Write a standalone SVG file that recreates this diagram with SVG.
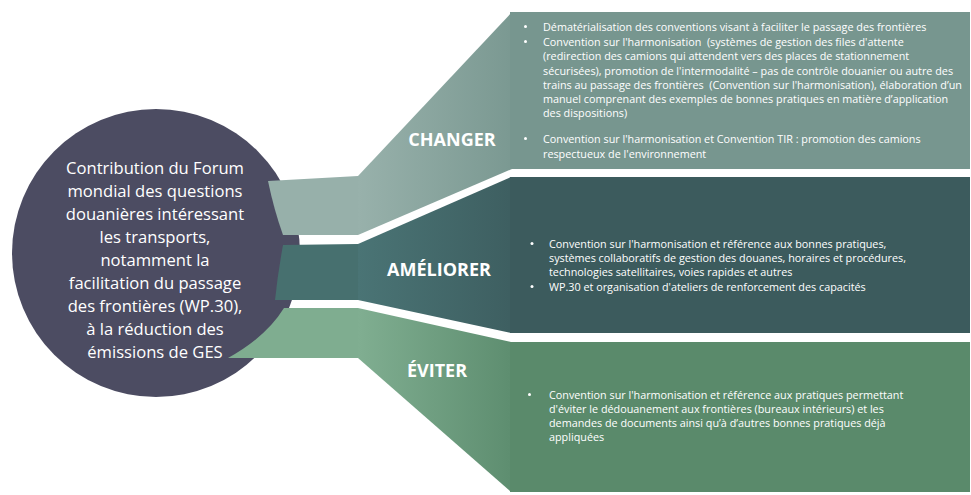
<svg xmlns="http://www.w3.org/2000/svg" width="971" height="495" viewBox="0 0 971 495">
<defs>
<linearGradient id="gC" gradientUnits="userSpaceOnUse" x1="358" y1="0" x2="510" y2="0"><stop offset="0" stop-color="#98b1ab"/><stop offset="1" stop-color="#7b9992"/></linearGradient>
<linearGradient id="gA" gradientUnits="userSpaceOnUse" x1="358" y1="0" x2="510" y2="0"><stop offset="0" stop-color="#4a7475"/><stop offset="1" stop-color="#3e5f61"/></linearGradient>
<linearGradient id="gE" gradientUnits="userSpaceOnUse" x1="358" y1="0" x2="510" y2="0"><stop offset="0" stop-color="#80ae91"/><stop offset="1" stop-color="#5e8e70"/></linearGradient>
</defs>
<style>
.lbl{font-family:"Open Sans","Noto Sans",sans-serif;font-weight:700;font-size:18px;fill:#ffffff;text-anchor:middle}
.ct{font-family:"Open Sans","Noto Sans",sans-serif;font-size:16.6px;fill:#ffffff;text-anchor:middle}
.bt{font-family:"Open Sans","Noto Sans",sans-serif;font-size:10.8px;fill:#ffffff;white-space:pre}
.bu{fill:#ffffff}
</style>
<rect width="971" height="495" fill="#ffffff"/>
<g id="node-center">
<circle cx="156" cy="253" r="144" fill="#4c4c62"/>
</g>
<g id="connectors">
<path d="M268,181 L358,176 L358,235 L283,235 Q274,210 268,181 Z" fill="#97b0aa"/>
<path d="M358,176 L512,12 L512,169 L358,235 Z" fill="url(#gC)"/>
<path d="M283,245 L358,244 L358,300 L275,300 Q278,272 283,245 Z" fill="#47706f"/>
<path d="M358,244 L511,177 L511,333 L358,300 Z" fill="url(#gA)"/>
<path d="M284,308 L358,308 L358,358 L228,358 Q266,337 284,308 Z" fill="#7fad90"/>
<path d="M358,308 L511,342 L511,492 L358,358 Z" fill="url(#gE)"/>
</g>
<g id="node-center-text">
<text class="ct" x="155" y="174">Contribution du Forum</text>
<text class="ct" x="155" y="197">mondial des questions</text>
<text class="ct" x="155" y="220">douanières intéressant</text>
<text class="ct" x="155" y="243">les transports,</text>
<text class="ct" x="155" y="266">notamment la</text>
<text class="ct" x="155" y="289">facilitation du passage</text>
<text class="ct" x="155" y="312">des frontières (WP.30),</text>
<text class="ct" x="155" y="335">à la réduction des</text>
<text class="ct" x="155" y="358">émissions de GES</text>
</g>
<g id="node-changer">
<rect x="510" y="12" width="460" height="157" fill="#77968f"/>
<text class="lbl" x="452" y="146">CHANGER</text>
<circle class="bu" cx="525.5" cy="26.5" r="1.5"/>
<text class="bt" x="543" y="30.5">Dématérialisation des conventions visant à faciliter le passage des frontières</text>
<circle class="bu" cx="525.5" cy="41.5" r="1.5"/>
<text class="bt" x="543" y="45.5">Convention sur l'harmonisation  (systèmes de gestion des files d'attente</text>
<text class="bt" x="543" y="60">(redirection des camions qui attendent vers des places de stationnement</text>
<text class="bt" x="543" y="74.5">sécurisées), promotion de l'intermodalité – pas de contrôle douanier ou autre des</text>
<text class="bt" x="543" y="89">trains au passage des frontières  (Convention sur l'harmonisation), élaboration d’un</text>
<text class="bt" x="543" y="103">manuel comprenant des exemples de bonnes pratiques en matière d’application</text>
<text class="bt" x="543" y="117">des dispositions)</text>
<circle class="bu" cx="525.5" cy="138.5" r="1.5"/>
<text class="bt" x="543" y="142.5">Convention sur l'harmonisation et Convention TIR : promotion des camions</text>
<text class="bt" x="543" y="157.5">respectueux de l'environnement</text>
</g>
<g id="node-ameliorer">
<rect x="510" y="177" width="460" height="156" fill="#3c5b5d"/>
<text class="lbl" x="439" y="276">AMÉLIORER</text>
<circle class="bu" cx="532" cy="243.5" r="1.5"/>
<text class="bt" x="549" y="247.5">Convention sur l'harmonisation et référence aux bonnes pratiques,</text>
<text class="bt" x="549" y="262">systèmes collaboratifs de gestion des douanes, horaires et procédures,</text>
<text class="bt" x="549" y="276">technologies satellitaires, voies rapides et autres</text>
<circle class="bu" cx="532" cy="286.5" r="1.5"/>
<text class="bt" x="549" y="290.5">WP.30 et organisation d'ateliers de renforcement des capacités</text>
</g>
<g id="node-eviter">
<rect x="510" y="342" width="460" height="150" fill="#5a8a6b"/>
<text class="lbl" x="437" y="377">ÉVITER</text>
<circle class="bu" cx="529.5" cy="394.5" r="1.5"/>
<text class="bt" x="549" y="398.5">Convention sur l'harmonisation et référence aux pratiques permettant</text>
<text class="bt" x="549" y="412.5">d'éviter le dédouanement aux frontières (bureaux intérieurs) et les</text>
<text class="bt" x="549" y="427">demandes de documents ainsi qu’à d’autres bonnes pratiques déjà</text>
<text class="bt" x="549" y="441">appliquées</text>
</g>
</svg>
